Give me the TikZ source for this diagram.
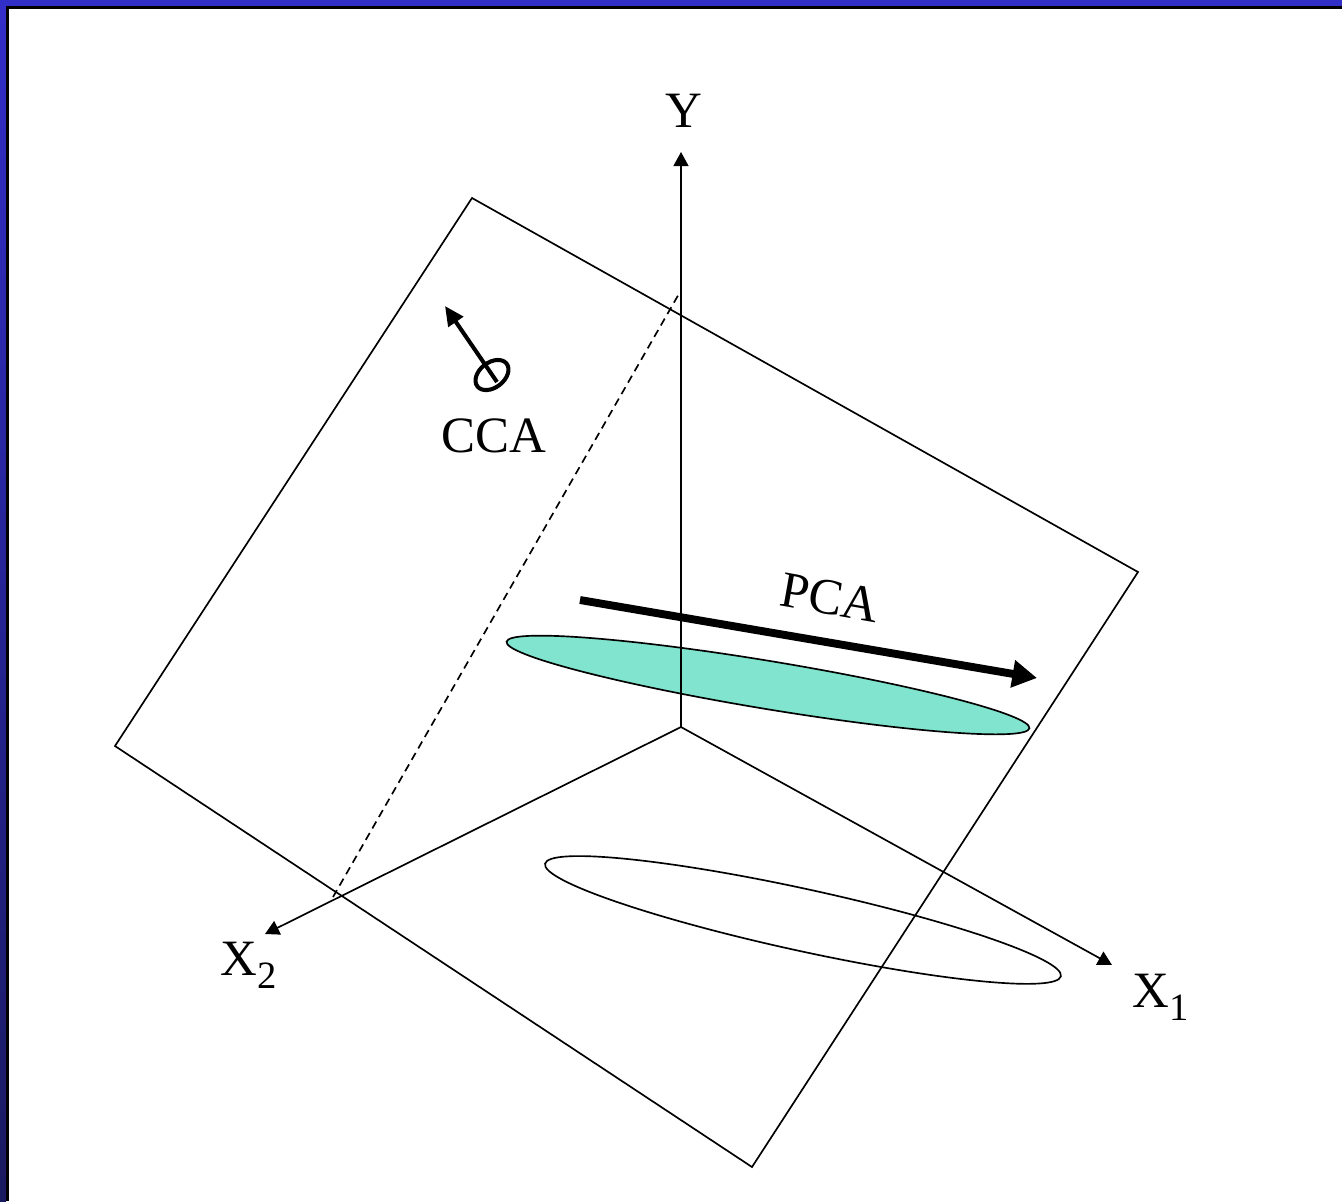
\documentclass[tikz,border=0pt]{standalone}
\usepackage{fontspec}
\setmainfont{Liberation Serif}
\usetikzlibrary{arrows.meta, calc}

\definecolor{frameblue}{RGB}{50,46,200}
\definecolor{framenavy}{RGB}{26,26,96}
\definecolor{cloudgreen}{RGB}{128,228,206}

\newcommand{\axsub}[1]{\raisebox{-0.27em}{\fontsize{22}{24}\selectfont #1}}

\begin{document}
\begin{tikzpicture}[
    x=0.02cm, y=-0.02cm,
    >={Triangle[length=8pt, width=8.5pt]},
    axisline/.style={->, line width=0.95pt},
    plane/.style={line width=0.95pt},
    hiddenline/.style={line width=0.95pt, dash pattern=on 4.5pt off 3pt},
    axlabel/.style={font=\fontsize{29}{34}\selectfont, inner sep=0pt},
    cloudline/.style={line width=0.95pt, draw=black},
    pcaarrow/.style={-{Triangle[length=14pt, width=15pt]}, line width=4.5pt},
    ccaarrow/.style={-{Triangle[length=11pt, width=10pt]}, line width=2.3pt}
]
\useasboundingbox (0,0) rectangle (1342,1201);

% ==================== Frame ====================
\fill[white] (0,0) rectangle (1342,1201);
\shade[top color=frameblue, bottom color=framenavy] (0,0) rectangle (6,1201);
\fill[frameblue] (0,0) rectangle (1342,6);
\fill[black] (6,6) rectangle (8.5,1201);
\fill[black] (6,6) rectangle (1342,8.5);

% ==================== Plane ====================
\coordinate (Ptop) at (472,198);
\coordinate (Pright) at (1138,572);
\coordinate (Pbottom) at (752,1167);
\coordinate (Pleft) at (115,746);
\draw[plane] (Ptop) -- (Pright) -- (Pbottom) -- (Pleft) -- cycle;

\coordinate (Dlow) at (333,897);
\coordinate (Dhigh) at (680,292);
\draw[hiddenline] (Dlow) -- (Dhigh);

% ==================== Clouds ====================
\coordinate (GreenC) at (768,685);
\filldraw[cloudline, fill=cloudgreen, rotate around={-9.4:(GreenC)}] (GreenC) ellipse (265 and 24);

\coordinate (ShadowC) at (803,920);
\draw[cloudline, rotate around={-12.3:(ShadowC)}] (ShadowC) ellipse (264 and 31);

% ==================== Axes ====================
\coordinate (O) at (681,727);
\coordinate (Ytip) at (681,152);
\coordinate (X1tip) at (1112,965);
\coordinate (X2tip) at (265,934);
\draw[axisline] (O) -- (Ytip);
\draw[axisline] (O) -- (X1tip);
\draw[axisline] (O) -- (X2tip);

\node[axlabel, anchor=base] (Ylab) at (684,127) {Y};
\node[axlabel, anchor=base west] (X1lab) at (1132,1007) {X\axsub{1}};
\node[axlabel, anchor=base west] (X2lab) at (220,975) {X\axsub{2}};

% ==================== PCA ====================
\coordinate (PCAstart) at (580,600);
\coordinate (PCAend) at (1037,678);
\draw[pcaarrow] (PCAstart) -- (PCAend);
\node[axlabel, rotate=-10] (PCAlab) at (830,598) {PCA};

% ==================== CCA ====================
\coordinate (CCAc) at (492,375);
\draw[line width=2.3pt, rotate around={38:(CCAc)}] (CCAc) ellipse (18.5 and 12.5);
\coordinate (CCAfoot) at (497,382);
\coordinate (CCAtip) at (445,306);
\draw[ccaarrow] (CCAfoot) -- (CCAtip);
\node[axlabel, anchor=base] (CCAlab) at (494,452) {CCA};

\end{tikzpicture}
\end{document}
